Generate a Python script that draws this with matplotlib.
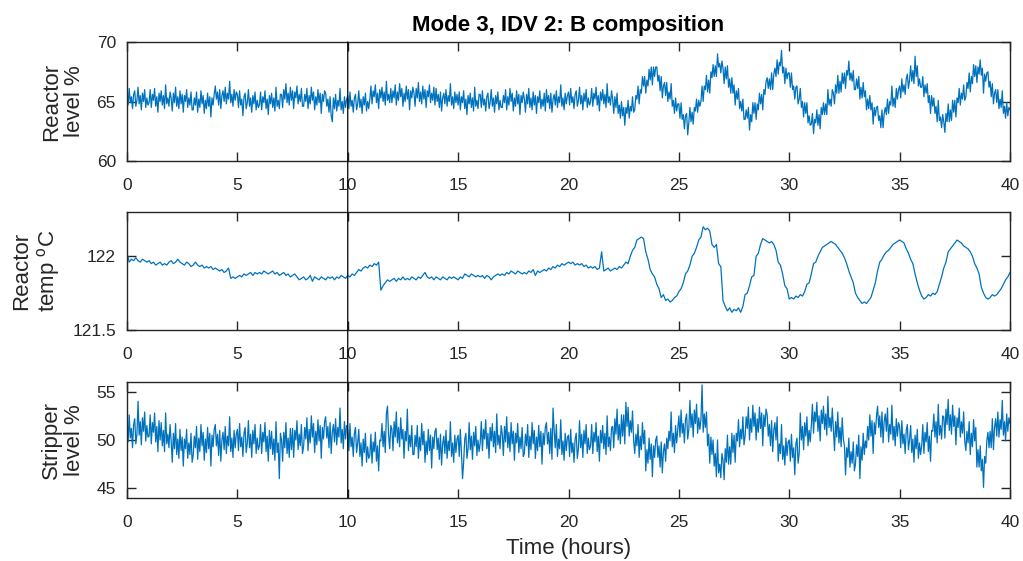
"""Mode 3, IDV 2 response: reactor level, reactor temperature, stripper level."""

import matplotlib
matplotlib.use("Agg")
import matplotlib.pyplot as plt
import numpy as np
from matplotlib.patches import ConnectionPatch

plt.rcParams["font.family"] = ["Liberation Sans", "DejaVu Sans"]

# reactor level %, one reading every 0.05 h (each row is one hour), 0 .. 40 h
reactor_level = [
    65.8, 64.7, 66.1, 64.9, 65.4, 64.4, 65.6, 65.9, 64.6, 65.1, 66.2, 64.8, 65.5, 64.3, 65.7, 65.0, 66.0, 64.5, 65.3, 64.7,
    64.9, 66.0, 64.5, 65.6, 65.1, 66.1, 64.6, 65.4, 64.1, 65.7, 65.0, 65.9, 64.7, 65.5, 64.4, 66.4, 64.8, 65.3, 64.6, 65.8,
    65.3, 64.2, 65.7, 64.9, 66.2, 64.6, 65.4, 64.4, 65.9, 64.8, 65.6, 64.1, 65.5, 65.0, 66.0, 64.5, 65.3, 64.7, 65.8, 64.3,
    64.3, 65.3, 64.7, 65.8, 64.1, 65.2, 64.5, 65.9, 64.8, 65.5, 64.0, 65.1, 64.4, 65.7, 64.6, 65.4, 63.7, 65.3, 64.7, 65.6,
    66.3, 65.2, 65.8, 64.7, 66.0, 64.4, 65.5, 65.9, 65.0, 66.2, 64.8, 65.7, 65.2, 66.7, 64.9, 65.6, 64.6, 66.0, 65.1, 65.8,
    65.6, 64.5, 65.9, 64.7, 65.2, 63.8, 65.4, 65.7, 64.4, 64.9, 66.0, 64.6, 65.3, 64.1, 65.5, 64.8, 65.8, 64.3, 65.1, 64.5,
    64.7, 65.8, 64.3, 65.4, 64.9, 65.9, 64.4, 65.2, 63.9, 65.5, 64.8, 65.7, 64.5, 65.3, 64.2, 66.2, 64.6, 65.1, 64.4, 65.6,
    65.6, 64.5, 66.0, 65.2, 66.5, 64.9, 65.7, 64.7, 66.2, 65.1, 65.9, 64.4, 65.8, 65.3, 66.3, 64.8, 65.6, 65.0, 66.1, 64.6,
    64.6, 65.6, 65.0, 66.1, 64.4, 65.5, 64.8, 66.2, 65.1, 65.8, 64.3, 65.4, 64.7, 66.0, 64.9, 65.7, 64.0, 65.6, 65.0, 65.9,
    65.7, 64.6, 65.2, 64.1, 65.4, 63.8, 63.3, 65.3, 64.4, 65.6, 64.2, 65.1, 64.6, 66.1, 64.3, 65.0, 64.0, 65.4, 64.5, 65.2,
    65.5, 64.4, 65.8, 64.6, 65.1, 64.1, 65.3, 65.6, 64.3, 64.8, 65.9, 64.5, 65.2, 64.0, 65.4, 64.7, 65.7, 64.2, 65.0, 64.4,
    65.2, 66.3, 64.8, 65.9, 65.4, 66.4, 64.9, 65.7, 64.4, 66.0, 65.3, 66.2, 65.0, 65.8, 64.7, 66.7, 65.1, 65.6, 64.9, 66.1,
    64.9, 65.9, 65.3, 66.4, 64.7, 65.8, 65.1, 66.5, 65.4, 66.1, 64.6, 65.7, 65.0, 66.3, 65.2, 66.0, 64.3, 65.9, 65.3, 66.2,
    65.7, 64.6, 66.1, 65.3, 66.6, 65.0, 65.8, 64.8, 66.3, 65.2, 66.0, 64.5, 65.9, 65.4, 66.4, 64.9, 65.7, 65.1, 66.2, 64.7,
    66.1, 65.0, 65.6, 64.5, 65.8, 64.2, 65.3, 65.7, 64.8, 66.0, 64.6, 65.5, 65.0, 66.5, 64.7, 65.4, 64.4, 65.8, 64.9, 65.6,
    64.7, 65.8, 64.3, 65.4, 64.9, 65.9, 64.4, 65.2, 63.9, 65.5, 64.8, 65.7, 64.5, 65.3, 64.2, 66.2, 64.6, 65.1, 64.4, 65.6,
    65.6, 64.5, 65.9, 64.7, 65.2, 64.2, 65.4, 65.7, 64.4, 64.9, 66.0, 64.6, 65.3, 64.1, 65.5, 64.8, 65.8, 64.3, 65.1, 64.5,
    64.5, 65.5, 64.9, 66.0, 64.3, 65.4, 64.7, 66.1, 65.0, 65.7, 64.2, 65.3, 64.6, 65.9, 64.8, 65.6, 63.9, 65.5, 64.9, 65.8,
    65.2, 64.1, 65.6, 64.8, 66.1, 64.5, 65.3, 64.3, 65.8, 64.7, 65.5, 64.0, 65.4, 64.9, 65.9, 64.4, 65.2, 64.6, 65.7, 64.2,
    66.0, 64.9, 65.5, 64.4, 65.7, 64.1, 65.2, 65.6, 64.7, 65.9, 64.5, 65.4, 64.9, 66.4, 64.6, 65.3, 64.3, 65.7, 64.8, 65.5,
    65.8, 64.7, 66.1, 64.9, 65.4, 64.4, 65.6, 65.9, 64.6, 65.1, 66.2, 64.8, 65.5, 64.3, 65.7, 65.0, 66.0, 64.5, 65.3, 64.7,
    65.0, 66.1, 64.6, 65.7, 65.2, 66.2, 64.7, 65.5, 64.2, 65.8, 65.1, 66.0, 64.8, 65.6, 64.5, 66.5, 64.9, 65.4, 64.7, 65.9,
    65.2, 64.0, 65.4, 64.5, 65.7, 64.0, 64.7, 63.6, 65.0, 63.8, 64.5, 63.0, 64.5, 64.0, 65.1, 63.6, 64.6, 64.2, 65.4, 64.1,
    64.3, 65.5, 65.2, 66.3, 64.8, 66.0, 65.7, 67.1, 66.3, 67.1, 65.7, 66.8, 66.3, 67.7, 66.8, 67.9, 66.4, 67.9, 67.1, 67.9,
    67.9, 66.7, 67.2, 65.9, 67.1, 65.3, 66.3, 66.6, 65.5, 66.6, 65.0, 65.8, 65.2, 66.5, 64.6, 65.1, 64.0, 65.3, 64.2, 64.8,
    64.8, 63.6, 64.9, 63.5, 63.9, 62.7, 63.8, 64.0, 62.2, 63.2, 64.5, 63.3, 64.1, 63.1, 64.5, 64.2, 65.2, 64.1, 65.1, 64.6,
    65.0, 66.3, 65.0, 66.3, 66.0, 67.2, 65.8, 66.8, 65.7, 67.5, 67.0, 68.1, 67.1, 68.0, 67.1, 69.0, 67.9, 68.2, 67.4, 68.4,
    67.8, 66.5, 67.9, 66.9, 68.0, 66.2, 66.9, 65.7, 67.0, 65.7, 66.4, 64.7, 65.9, 65.2, 66.1, 64.4, 65.0, 64.2, 65.2, 63.5,
    63.5, 64.3, 63.6, 64.5, 62.6, 63.9, 63.3, 64.9, 64.0, 64.9, 63.5, 64.8, 64.3, 65.7, 64.8, 65.6, 64.3, 66.0, 65.6, 66.7,
    67.0, 66.1, 66.9, 66.0, 67.4, 66.0, 67.3, 67.8, 67.1, 68.5, 67.3, 68.3, 68.0, 69.3, 67.4, 67.9, 66.5, 67.8, 66.9, 67.4,
    67.4, 66.2, 67.4, 66.0, 66.3, 65.2, 66.2, 66.3, 64.8, 65.2, 66.1, 64.5, 65.0, 63.7, 64.9, 64.0, 64.9, 63.2, 63.8, 63.0,
    63.1, 64.0, 62.3, 63.5, 63.2, 64.3, 63.0, 63.9, 62.7, 64.5, 63.9, 64.9, 63.9, 64.8, 63.9, 66.0, 64.7, 65.2, 64.6, 66.0,
    65.7, 64.8, 66.4, 65.7, 67.2, 65.7, 66.7, 65.8, 67.4, 66.5, 67.4, 66.1, 67.6, 67.2, 68.4, 66.8, 67.4, 66.7, 67.6, 66.0,
    66.0, 66.9, 66.1, 67.1, 65.2, 66.2, 65.3, 66.6, 65.4, 65.9, 64.3, 65.2, 64.4, 65.5, 64.3, 64.9, 63.1, 64.5, 63.8, 64.5,
    64.6, 63.4, 63.8, 62.8, 64.3, 62.8, 64.0, 64.5, 63.9, 65.2, 64.0, 65.0, 64.7, 66.3, 64.6, 65.3, 64.5, 66.1, 65.2, 66.0,
    66.3, 65.3, 66.9, 65.8, 66.4, 65.6, 66.9, 67.3, 66.1, 66.8, 68.0, 66.7, 67.6, 66.5, 68.8, 67.1, 68.0, 66.3, 66.9, 66.2,
    66.2, 67.1, 65.4, 66.4, 65.7, 66.5, 64.9, 65.5, 64.0, 65.5, 64.6, 65.3, 64.0, 64.6, 63.3, 65.1, 63.4, 63.7, 62.8, 63.9,
    63.3, 62.4, 64.0, 63.3, 64.8, 63.3, 64.3, 63.4, 65.1, 64.1, 65.1, 63.7, 65.3, 64.9, 66.1, 64.7, 65.7, 65.2, 66.4, 65.1,
    65.4, 66.6, 66.1, 67.4, 65.8, 67.1, 66.5, 68.1, 67.1, 68.0, 66.6, 67.9, 67.3, 68.5, 67.2, 67.8, 65.7, 67.3, 66.7, 67.4,
    67.5, 66.2, 66.7, 65.4, 66.5, 64.8, 65.7, 66.0, 64.9, 66.0, 64.4, 65.2, 64.5, 65.9, 64.0, 64.6, 63.6, 64.9, 63.8, 64.5,
    64.3,
]

# reactor temperature degC, one reading every 0.1 h, 0 .. 40 h
reactor_temp = [
    122.02, 121.96, 121.98, 121.97, 121.99, 121.97, 121.96, 121.98, 121.97, 121.96,
    121.97, 121.95, 121.96, 121.94, 121.95, 121.96, 121.94, 121.95, 121.94, 121.96,
    121.97, 121.95, 121.96, 121.98, 121.96, 121.95, 121.94, 121.96, 121.95, 121.93,
    121.94, 121.96, 121.94, 121.93, 121.94, 121.92, 121.93, 121.92, 121.93, 121.91,
    121.92, 121.91, 121.90, 121.91, 121.89, 121.90, 121.92, 121.85, 121.86, 121.85,
    121.86, 121.87, 121.86, 121.88, 121.87, 121.88, 121.89, 121.87, 121.89, 121.88,
    121.89, 121.88, 121.90, 121.89, 121.88, 121.89, 121.90, 121.88, 121.89, 121.87,
    121.88, 121.89, 121.87, 121.88, 121.86, 121.87, 121.88, 121.86, 121.84, 121.85,
    121.86, 121.84, 121.85, 121.87, 121.83, 121.86, 121.85, 121.84, 121.86, 121.85,
    121.84, 121.86, 121.85, 121.86, 121.84, 121.86, 121.85, 121.87, 121.86, 121.85,
    121.87, 121.86, 121.88, 121.87, 121.89, 121.91, 121.90, 121.92, 121.93, 121.92,
    121.94, 121.93, 121.95, 121.94, 121.96, 121.77, 121.80, 121.82, 121.84, 121.83,
    121.84, 121.85, 121.83, 121.85, 121.84, 121.86, 121.84, 121.85, 121.84, 121.86,
    121.85, 121.84, 121.86, 121.85, 121.87, 121.89, 121.86, 121.85, 121.86, 121.84,
    121.86, 121.85, 121.84, 121.86, 121.85, 121.84, 121.86, 121.85, 121.86, 121.85,
    121.84, 121.86, 121.85, 121.88, 121.87, 121.86, 121.88, 121.87, 121.86, 121.87,
    121.86, 121.87, 121.85, 121.87, 121.86, 121.84, 121.86, 121.87, 121.88, 121.87,
    121.88, 121.87, 121.89, 121.88, 121.90, 121.89, 121.88, 121.90, 121.89, 121.88,
    121.89, 121.88, 121.90, 121.89, 121.91, 121.87, 121.90, 121.89, 121.90, 121.91,
    121.90, 121.92, 121.91, 121.93, 121.92, 121.94, 121.93, 121.95, 121.94, 121.95,
    121.96, 121.95, 121.96, 121.94, 121.95, 121.94, 121.95, 121.93, 121.94, 121.92,
    121.93, 121.92, 121.93, 121.91, 121.92, 122.03, 121.90, 121.91, 121.92, 121.90,
    121.91, 121.92, 121.91, 121.93, 121.92, 121.94, 121.96, 121.95, 122.00, 122.04,
    122.06, 122.11, 122.12, 122.13, 122.12, 122.03, 121.98, 121.91, 121.88, 121.86,
    121.81, 121.78, 121.72, 121.74, 121.70, 121.71, 121.69, 121.70, 121.72, 121.73,
    121.76, 121.78, 121.82, 121.88, 121.90, 121.94, 122.00, 122.02, 122.06, 122.11,
    122.13, 122.20, 122.18, 122.19, 122.17, 122.08, 122.06, 122.08, 121.95, 121.93,
    121.70, 121.66, 121.63, 121.65, 121.62, 121.64, 121.63, 121.65, 121.62, 121.66,
    121.74, 121.75, 121.80, 121.86, 121.87, 122.00, 122.02, 122.08, 122.12, 122.11,
    122.10, 122.09, 122.10, 122.08, 122.04, 121.96, 121.94, 121.88, 121.80, 121.78,
    121.71, 121.72, 121.71, 121.73, 121.72, 121.74, 121.73, 121.76, 121.81, 121.82,
    121.88, 121.95, 121.96, 122.00, 122.03, 122.06, 122.07, 122.08, 122.09, 122.10,
    122.09, 122.08, 122.06, 122.04, 122.02, 121.99, 121.95, 121.90, 121.86, 121.82,
    121.75, 121.72, 121.70, 121.68, 121.69, 121.68, 121.70, 121.72, 121.77, 121.82,
    121.90, 121.96, 121.98, 122.01, 122.03, 122.04, 122.06, 122.08, 122.09, 122.10,
    122.11, 122.10, 122.09, 122.05, 122.02, 121.98, 121.95, 121.88, 121.82, 121.77,
    121.73, 121.71, 121.72, 121.74, 121.73, 121.75, 121.74, 121.76, 121.81, 121.86,
    121.92, 121.96, 122.03, 122.05, 122.07, 122.09, 122.11, 122.10, 122.09, 122.07,
    122.06, 122.05, 122.03, 122.00, 121.95, 121.92, 121.88, 121.79, 121.75, 121.72,
    121.71, 121.72, 121.74, 121.73, 121.74, 121.76, 121.78, 121.81, 121.84, 121.86,
    121.89,
]

# stripper level %, one reading every 0.05 h (each row is one hour), 0 .. 40 h
stripper_level = [
    52.0, 49.8, 52.6, 50.2, 51.2, 49.2, 51.6, 52.2, 49.6, 50.6, 54.0, 50.5, 51.9, 49.5, 52.3, 50.9, 52.9, 49.9, 51.5, 50.3,
    50.4, 52.6, 49.6, 51.8, 50.8, 52.8, 49.8, 51.4, 48.8, 52.0, 50.0, 51.8, 49.4, 51.0, 48.8, 52.8, 49.6, 50.6, 49.2, 51.6,
    49.9, 47.7, 50.7, 49.1, 51.7, 48.5, 50.1, 48.1, 51.1, 48.9, 50.3, 47.3, 50.1, 49.1, 51.1, 48.1, 49.7, 48.5, 50.7, 47.7,
    48.4, 50.4, 49.2, 51.4, 48.0, 50.2, 48.8, 51.6, 49.4, 50.8, 47.9, 50.1, 48.7, 51.3, 49.1, 50.7, 47.3, 50.5, 49.3, 51.1,
    51.6, 49.4, 50.6, 48.4, 51.0, 47.8, 50.0, 50.8, 49.0, 51.4, 48.6, 50.4, 49.4, 52.4, 48.8, 50.2, 48.2, 51.0, 49.2, 50.6,
    51.1, 48.9, 51.7, 49.3, 50.3, 48.3, 50.7, 51.3, 48.7, 49.7, 52.0, 49.2, 50.6, 48.2, 51.0, 49.6, 51.6, 48.6, 50.2, 49.0,
    49.4, 51.6, 48.6, 50.8, 49.8, 51.8, 48.8, 50.4, 47.8, 51.0, 49.1, 50.9, 48.5, 50.1, 47.9, 51.9, 48.7, 49.7, 46.0, 50.7,
    50.0, 47.8, 50.8, 49.2, 51.8, 48.6, 50.2, 48.2, 51.2, 49.0, 51.2, 48.2, 51.0, 50.0, 52.0, 49.0, 50.6, 49.4, 51.6, 48.6,
    49.3, 51.3, 50.1, 52.3, 48.9, 51.1, 49.7, 52.5, 50.3, 51.7, 48.7, 50.9, 49.5, 52.1, 49.9, 51.5, 48.1, 51.3, 50.1, 51.9,
    52.4, 50.2, 51.4, 49.2, 51.8, 48.6, 50.8, 51.6, 49.8, 52.2, 49.5, 51.3, 50.3, 53.3, 49.7, 51.1, 49.1, 51.9, 50.1, 51.5,
    51.1, 48.9, 51.7, 49.3, 50.3, 48.3, 50.7, 51.3, 48.7, 49.7, 51.1, 48.3, 49.7, 47.3, 50.1, 48.7, 50.7, 47.7, 49.3, 48.1,
    48.4, 50.6, 47.6, 49.8, 48.8, 50.8, 47.8, 49.4, 46.8, 50.0, 49.9, 51.7, 49.3, 50.9, 48.7, 52.7, 53.5, 50.5, 49.1, 51.5,
    51.1, 48.9, 51.9, 50.3, 52.9, 49.7, 51.3, 49.3, 52.3, 50.1, 51.1, 48.1, 50.9, 49.9, 53.2, 48.9, 50.5, 49.3, 51.5, 48.5,
    48.5, 50.5, 49.3, 51.5, 48.1, 50.3, 48.9, 51.7, 49.5, 50.9, 47.7, 49.9, 48.5, 51.1, 48.9, 50.5, 47.1, 50.3, 49.1, 50.9,
    51.2, 49.0, 50.2, 48.0, 50.6, 47.4, 49.6, 50.4, 48.6, 51.0, 48.1, 49.9, 48.9, 51.9, 48.3, 49.7, 47.7, 50.5, 48.7, 50.1,
    50.5, 48.3, 51.1, 48.7, 46.0, 47.7, 50.1, 50.7, 48.1, 49.1, 51.8, 49.0, 50.4, 48.0, 50.8, 49.4, 51.4, 48.4, 50.0, 48.8,
    49.7, 51.9, 48.9, 51.1, 50.1, 52.1, 49.1, 50.7, 48.1, 51.3, 49.9, 51.7, 49.3, 50.9, 48.7, 52.7, 49.5, 50.5, 49.1, 51.5,
    50.6, 48.4, 51.4, 49.8, 52.4, 49.2, 50.8, 48.8, 51.8, 49.6, 50.9, 47.9, 50.7, 49.7, 51.7, 48.7, 50.3, 49.1, 51.3, 48.3,
    48.6, 50.6, 49.4, 51.6, 48.2, 50.4, 49.0, 51.8, 49.6, 51.0, 48.1, 50.3, 48.9, 51.5, 49.3, 50.9, 47.5, 50.7, 49.5, 51.3,
    51.8, 49.6, 50.8, 48.6, 51.2, 48.0, 53.3, 51.0, 49.2, 51.6, 48.3, 50.1, 49.1, 52.1, 48.5, 49.9, 47.9, 50.7, 48.9, 50.3,
    50.5, 48.3, 51.1, 48.7, 49.7, 47.7, 50.1, 50.7, 48.1, 49.1, 52.0, 49.2, 50.6, 48.2, 51.0, 49.6, 51.6, 48.6, 50.2, 49.0,
    49.4, 51.6, 48.6, 50.8, 49.8, 51.8, 48.8, 50.4, 47.8, 51.0, 49.7, 51.5, 49.1, 50.7, 48.5, 52.5, 49.3, 50.3, 48.9, 51.3,
    51.4, 49.2, 52.2, 50.6, 53.2, 50.0, 51.6, 49.6, 52.6, 50.4, 52.6, 49.6, 53.9, 51.4, 53.4, 50.4, 52.0, 50.8, 53.0, 50.0,
    48.6, 50.6, 49.4, 51.6, 48.2, 50.4, 49.0, 51.8, 49.6, 51.0, 46.8, 49.0, 47.6, 50.2, 48.0, 49.6, 46.2, 49.4, 48.2, 50.0,
    50.4, 48.2, 49.4, 47.2, 49.8, 46.6, 48.8, 49.6, 47.8, 50.2, 49.1, 50.9, 49.9, 52.9, 49.3, 50.7, 48.7, 51.5, 49.7, 51.1,
    52.5, 50.3, 53.1, 50.7, 51.7, 49.7, 52.1, 52.7, 50.1, 51.1, 54.1, 51.3, 52.7, 50.3, 53.1, 51.7, 53.7, 50.7, 52.3, 51.1,
    52.1, 55.7, 50.8, 52.7, 51.3, 52.9, 49.4, 50.6, 47.6, 50.3, 48.5, 50.0, 47.3, 48.6, 46.2, 50.0, 46.6, 47.5, 46.1, 48.6,
    47.9, 45.9, 49.1, 47.7, 50.5, 47.5, 49.3, 47.5, 50.7, 48.7, 50.5, 47.7, 50.7, 49.9, 52.1, 49.3, 51.1, 50.1, 52.4, 49.5,
    50.4, 52.4, 51.2, 53.4, 50.0, 52.2, 50.8, 53.6, 51.4, 52.8, 50.0, 52.2, 50.8, 53.4, 51.2, 52.8, 49.4, 52.6, 51.4, 53.2,
    52.6, 50.4, 51.6, 49.4, 52.0, 48.8, 51.0, 51.8, 50.0, 52.4, 47.8, 49.6, 48.6, 51.6, 48.0, 49.4, 47.4, 50.2, 48.4, 49.8,
    50.0, 47.8, 50.6, 48.2, 49.2, 46.4, 49.6, 50.2, 47.6, 48.6, 52.8, 50.0, 51.4, 49.0, 51.8, 50.4, 52.4, 49.4, 51.0, 49.8,
    51.5, 53.7, 50.7, 52.9, 51.9, 53.9, 50.9, 52.5, 49.9, 53.1, 51.7, 53.5, 51.1, 52.7, 50.5, 54.5, 51.3, 52.3, 50.9, 53.3,
    51.1, 48.9, 51.9, 50.3, 52.9, 49.7, 51.3, 49.3, 52.3, 50.1, 49.4, 46.4, 49.2, 48.2, 50.2, 47.2, 48.8, 47.6, 49.8, 46.8,
    47.5, 49.5, 48.3, 50.5, 46.0, 49.3, 47.9, 50.7, 48.5, 49.9, 49.2, 51.4, 50.0, 52.6, 50.4, 52.0, 48.6, 51.8, 50.6, 52.4,
    53.5, 51.3, 52.5, 50.3, 52.9, 49.7, 51.9, 52.7, 50.9, 53.3, 49.8, 51.6, 50.6, 53.6, 50.0, 51.4, 49.4, 52.2, 50.4, 51.8,
    51.4, 49.2, 52.0, 49.6, 50.6, 48.6, 51.0, 51.6, 49.0, 50.0, 51.5, 48.7, 50.1, 47.7, 50.5, 49.1, 51.1, 48.1, 49.7, 48.5,
    49.4, 51.6, 48.6, 50.8, 49.8, 51.8, 48.8, 50.4, 47.8, 51.0, 50.9, 52.7, 50.3, 51.9, 49.7, 53.7, 50.5, 51.5, 50.1, 52.5,
    52.4, 50.2, 53.2, 51.6, 54.2, 51.0, 52.6, 50.6, 53.6, 51.4, 52.5, 49.5, 52.3, 51.3, 53.3, 50.3, 51.9, 50.7, 52.9, 49.9,
    48.9, 50.9, 49.7, 51.9, 48.5, 50.7, 49.3, 52.1, 49.9, 51.3, 47.2, 49.0, 47.2, 49.4, 46.8, 48.0, 45.1, 48.3, 47.6, 49.9,
    50.8, 49.2, 50.9, 49.2, 52.2, 49.0, 51.3, 52.2, 50.4, 52.9, 50.3, 52.1, 51.1, 54.1, 50.5, 51.9, 49.9, 52.7, 50.9, 52.3,
    51.7,
]

panels = [
    (reactor_level, "Reactor\nlevel %", (60, 70), [60, 65, 70], ["60", "65", "70"]),
    (reactor_temp, "Reactor\ntemp $\\mathregular{^o}$C", (121.5, 122.3), [121.5, 122], ["121.5", "122"]),
    (stripper_level, "Stripper\nlevel %", (44, 56), [45, 50, 55], ["45", "50", "55"]),
]
x_ticks = [0, 5, 10, 15, 20, 25, 30, 35, 40]
fault_time = 10
line_color = "#0072BD"
axis_color = "#262626"

W, H = 1023, 561
fig = plt.figure(figsize=(W / 100, H / 100), dpi=100)

# axes boxes in pixels: (left, top, right, bottom)
boxes = [(127, 42, 1010, 161), (127, 212, 1010, 330), (127, 382, 1010, 498)]
label_x = [-0.0475, -0.0736, -0.0475]

axes = []
for (values, ylabel, ylim, yticks, yticklabels), (l, t, r, b), lx in zip(panels, boxes, label_x):
    ax = fig.add_axes([l / W, 1 - b / H, (r - l) / W, (b - t) / H])
    hours = np.linspace(0, 40, len(values))
    ax.plot(hours, values, color=line_color, lw=0.9)
    ax.set_xlim(0, 40)
    ax.set_ylim(*ylim)
    ax.set_xticks(x_ticks)
    ax.set_yticks(yticks)
    ax.set_yticklabels(yticklabels)
    ax.tick_params(direction="in", length=6.5, width=1, top=True, right=True,
                   labelsize=12.5, colors=axis_color)
    ax.tick_params(axis="y", pad=8)
    ax.tick_params(axis="x", pad=12)
    for s in ax.spines.values():
        s.set_color(axis_color)
        s.set_linewidth(1)
    ax.set_ylabel(ylabel, fontsize=16, color=axis_color, linespacing=1.15)
    ax.yaxis.set_label_coords(lx, 0.5)
    axes.append(ax)

axes[0].set_title("Mode 3, IDV 2: B composition", fontsize=16, fontweight="bold", pad=8)
axes[2].set_xlabel("Time (hours)", fontsize=16, color=axis_color, labelpad=6)

# fault onset marker spanning all three panels
con = ConnectionPatch(xyA=(fault_time, panels[0][2][1]), coordsA=axes[0].transData,
                      xyB=(fault_time, panels[2][2][0]), coordsB=axes[2].transData,
                      color="black", lw=0.9)
fig.add_artist(con)

fig.savefig("out.png", dpi=100)
